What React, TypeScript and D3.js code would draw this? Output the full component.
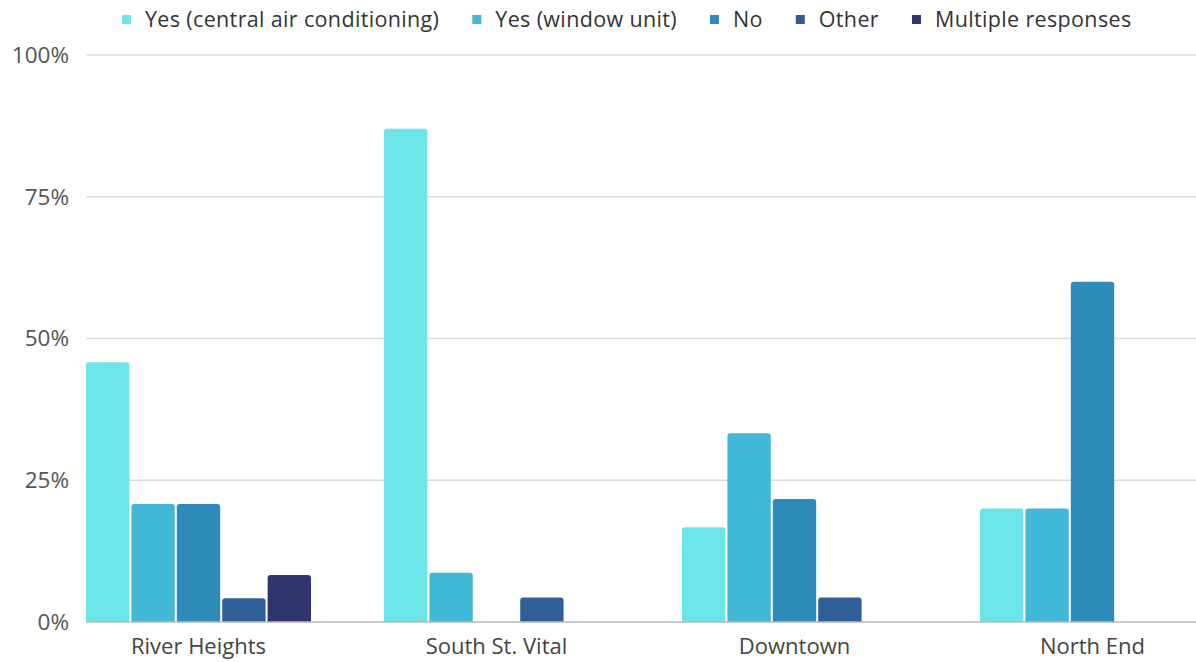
import React, { useEffect, useRef } from "react";
import * as d3 from "d3";

const categories = ["River Heights", "South St. Vital", "Downtown", "North End"];
const seriesNames = [
  "Yes (central air conditioning)",
  "Yes (window unit)",
  "No",
  "Other",
  "Multiple responses",
];
const seriesColors = ["#6CE5E8", "#41B8D5", "#2D8BBA", "#2F5F98", "#31356E"];
// percentages per series, one value per category
const centralAir = [45.8, 87.0, 16.7, 20.0];
const windowUnit = [20.8, 8.7, 33.3, 20.0];
const noAc = [20.8, 0, 21.7, 60.0];
const other = [4.2, 4.3, 4.3, 0];
const multiple = [8.3, 0, 0, 0];
const yTicks = [0, 25, 50, 75, 100];

const seriesValues = [centralAir, windowUnit, noAc, other, multiple];

const W = 1196;
const H = 662;
const FONT = "'Open Sans', 'Noto Sans', sans-serif";

function topRoundedRect(x: number, y: number, w: number, h: number, r: number) {
  const rr = Math.min(r, h, w / 2);
  const p = d3.path();
  p.moveTo(x, y + h);
  p.lineTo(x, y + rr);
  p.quadraticCurveTo(x, y, x + rr, y);
  p.lineTo(x + w - rr, y);
  p.quadraticCurveTo(x + w, y, x + w, y + rr);
  p.lineTo(x + w, y + h);
  p.closePath();
  return p.toString();
}

export default function App() {
  const ref = useRef<SVGSVGElement | null>(null);

  useEffect(() => {
    const svg = d3.select(ref.current);
    svg.selectAll("*").remove();

    const plotLeft = 86;
    const y = d3.scaleLinear().domain([0, 100]).range([622, 55]);

    const x0 = d3
      .scaleBand<string>()
      .domain(categories)
      .range([plotLeft, 1205])
      .paddingInner(0.245)
      .paddingOuter(0);

    const x1 = d3
      .scaleBand<string>()
      .domain(seriesNames)
      .range([0, x0.bandwidth()])
      .paddingInner(0.045)
      .paddingOuter(0);

    // gridlines
    const grid = svg.append("g");
    grid
      .selectAll("line")
      .data(yTicks.filter((t) => t !== 0))
      .join("line")
      .attr("x1", plotLeft)
      .attr("x2", W)
      .attr("y1", (d) => y(d))
      .attr("y2", (d) => y(d))
      .attr("stroke", "#dcdcdc")
      .attr("stroke-width", 1.5);

    // y tick labels
    svg
      .append("g")
      .selectAll("text")
      .data(yTicks)
      .join("text")
      .attr("x", 69)
      .attr("y", (d) => y(d))
      .attr("dy", "0.35em")
      .attr("text-anchor", "end")
      .attr("font-family", FONT)
      .attr("font-size", 22.5)
      .attr("fill", "#555")
      .text((d) => `${d}%`);

    // bars
    const groups = svg
      .append("g")
      .selectAll("g")
      .data(categories)
      .join("g")
      .attr("transform", (c) => `translate(${x0(c)},0)`);

    groups
      .selectAll("path")
      .data((c, ci) =>
        seriesNames.map((s, si) => ({ s, si, v: seriesValues[si][ci] }))
      )
      .join("path")
      .filter((d) => d.v > 0)
      .attr("d", (d) =>
        topRoundedRect(x1(d.s)!, y(d.v), x1.bandwidth(), y(0) - y(d.v), 3)
      )
      .attr("fill", (d) => seriesColors[d.si]);

    // baseline
    svg
      .append("line")
      .attr("x1", plotLeft)
      .attr("x2", W)
      .attr("y1", y(0))
      .attr("y2", y(0))
      .attr("stroke", "#b8b8b8")
      .attr("stroke-width", 1.5);

    // category labels
    svg
      .append("g")
      .selectAll("text")
      .data(categories)
      .join("text")
      .attr("x", (c) => x0(c)! + x0.bandwidth() / 2)
      .attr("y", 654)
      .attr("text-anchor", "middle")
      .attr("font-family", FONT)
      .attr("font-size", 22)
      .attr("fill", "#444")
      .text((c) => c);

    // legend
    const legend = svg.append("g");
    let lx = 122;
    seriesNames.forEach((name, i) => {
      legend
        .append("rect")
        .attr("x", lx)
        .attr("y", 15)
        .attr("width", 9)
        .attr("height", 9)
        .attr("fill", seriesColors[i]);
      const t = legend
        .append("text")
        .attr("x", lx + 23)
        .attr("y", 27)
        .attr("font-family", FONT)
        .attr("font-size", 21.5)
        .attr("letter-spacing", 0.35)
        .attr("fill", "#333")
        .text(name);
      const w = (t.node() as SVGTextElement).getComputedTextLength();
      lx += 23 + w + 33;
    });
  }, []);

  return (
    <svg
      ref={ref}
      width={W}
      height={H}
      style={{ position: "absolute", left: 0, top: 0, background: "#fff" }}
    />
  );
}
